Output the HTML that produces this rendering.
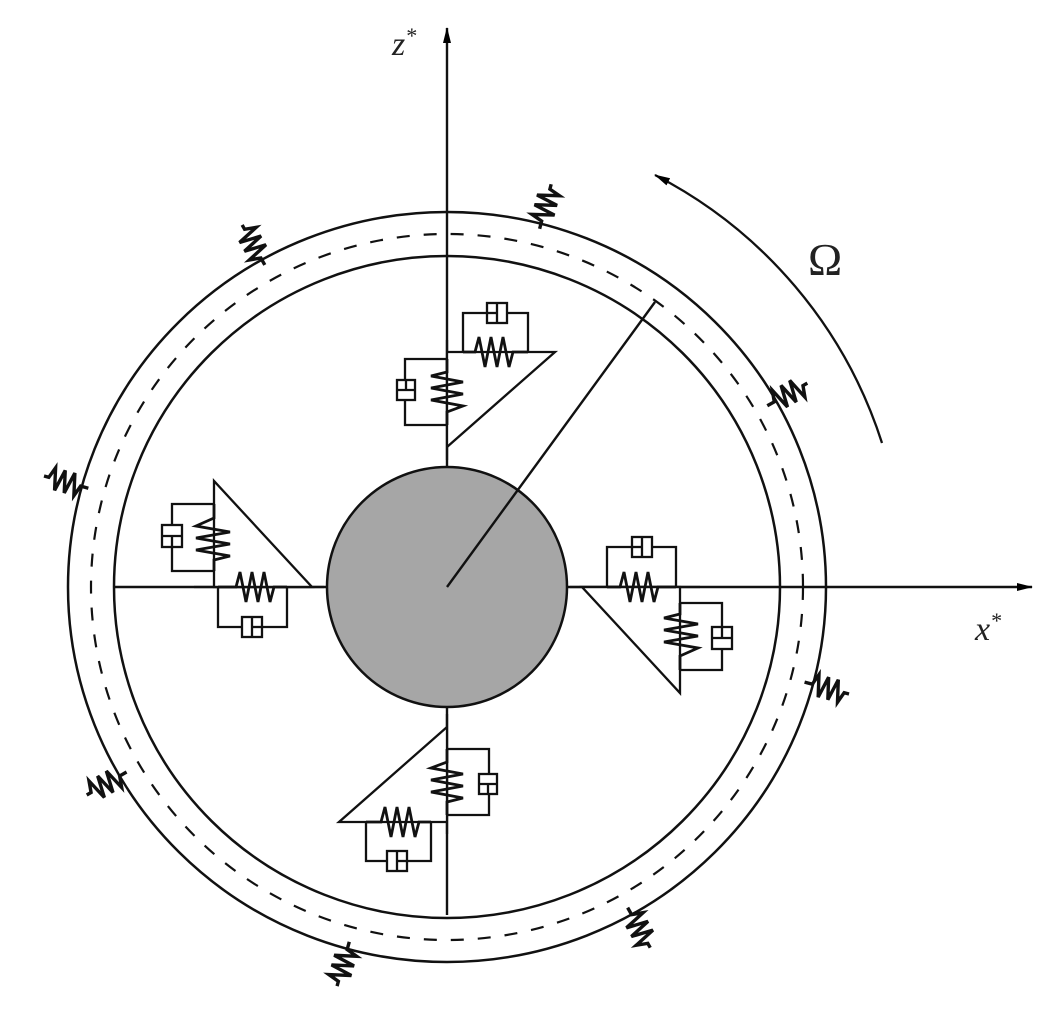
<!DOCTYPE html>
<html><head><meta charset="utf-8"><style>html,body{margin:0;padding:0;background:#fff}svg{display:block}</style></head>
<body>
<svg width="1056" height="1020" viewBox="0 0 1056 1020" xmlns="http://www.w3.org/2000/svg">
<defs>
<marker id="ah" markerWidth="16" markerHeight="10" refX="15" refY="5" orient="auto" markerUnits="userSpaceOnUse">
<path d="M0,1 L16,5 L0,9 Z" fill="#000"/></marker>
<g id="sp" fill="none" stroke="#111" stroke-width="3.4" stroke-linejoin="miter">
<path d="M-2,0 L6,0 L10,-11 L15,11 L20,-11 L25,11 L30,-11 L35,11 L39,0 L44,0"/>
</g>
</defs>
<g fill="none" stroke="#111" stroke-width="2.5">
<ellipse cx="447" cy="587" rx="379" ry="375"/>
<ellipse cx="447" cy="587" rx="333" ry="331"/>
<ellipse cx="447" cy="587" rx="356" ry="353" stroke-dasharray="13,14" stroke-width="2.2"/>
</g>
<!-- axes -->
<line x1="447" y1="915" x2="447" y2="28" stroke="#111" stroke-width="2.4" marker-end="url(#ah)"/>
<line x1="115" y1="587" x2="1032" y2="587" stroke="#111" stroke-width="2.4" marker-end="url(#ah)"/>
<!-- hub -->
<circle cx="447" cy="587" r="120" fill="#a6a6a6" stroke="#111" stroke-width="2.5"/>
<line x1="447" y1="587" x2="655" y2="302" stroke="#111" stroke-width="2.4"/>
<!-- top group -->
<g id="topg" fill="none" stroke="#111" stroke-width="2.3">
<path d="M447,352 H555 L447,447" fill="#fff"/>
<line x1="447" y1="340" x2="447" y2="460"/>
<path d="M463,352 V313 H528 V352"/>
<path d="M463,352 L475,352 L479,337 L485,367 L491,337 L497,367 L503,337 L509,367 L513,352 L528,352" stroke-width="2.8"/>
<rect x="487" y="303" width="20" height="20" fill="#fff"/><line x1="497" y1="303" x2="497" y2="323"/><line x1="487" y1="313" x2="497" y2="313"/>
<path d="M447,359 H405 V425 H447"/>
<path d="M447,359 L447,372 L431,376 L463,382 L431,388 L463,394 L431,400 L463,406 L447,412 L447,425" stroke-width="2.8"/>
<rect x="397" y="380" width="18" height="20" fill="#fff"/><line x1="397" y1="390" x2="415" y2="390"/><line x1="406" y1="380" x2="406" y2="390"/>
</g>
<use href="#topg" transform="rotate(180 447 587)"/>
<!-- right group -->
<g id="rg" fill="none" stroke="#111" stroke-width="2.3">
<path d="M582,587 H680 V693 Z" fill="#fff"/>
<line x1="570" y1="587" x2="700" y2="587"/>
<path d="M607,587 V547 H676 V587"/>
<path d="M607,587 L620,587 L624,572 L630,602 L636,572 L642,602 L648,572 L654,602 L658,587 L676,587" stroke-width="2.8"/>
<rect x="632" y="537" width="20" height="20" fill="#fff"/><line x1="642" y1="537" x2="642" y2="557"/><line x1="632" y1="547" x2="642" y2="547"/>
<path d="M680,603 H722 V670 H680"/>
<path d="M680,603 L680,614 L664,618 L698,624 L664,630 L698,636 L664,642 L698,648 L680,656 L680,670" stroke-width="2.8"/>
<rect x="712" y="627" width="20" height="22" fill="#fff"/><line x1="712" y1="638" x2="732" y2="638"/><line x1="722" y1="627" x2="722" y2="638"/>
</g>
<use href="#rg" transform="rotate(180 447 587)"/>
<!-- outer springs -->
<use href="#sp" transform="translate(447 587) rotate(-75.5) translate(372 0)"/>
<use href="#sp" transform="translate(447 587) rotate(-119.5) translate(372 0)"/>
<use href="#sp" transform="translate(447 587) rotate(-164.6) translate(374 0)"/>
<use href="#sp" transform="translate(447 587) rotate(-29.5) translate(370 0)"/>
<use href="#sp" transform="translate(447 587) rotate(14.9) translate(372 0)"/>
<use href="#sp" transform="translate(447 587) rotate(150) translate(372 0)"/>
<use href="#sp" transform="translate(447 587) rotate(60.6) translate(370 0)"/>
<use href="#sp" transform="translate(447 587) rotate(105.4) translate(370 0)"/>
<!-- omega arc -->
<path d="M882,443 A459,459 0 0 0 655,175" fill="none" stroke="#111" stroke-width="2.3" marker-end="url(#ah)"/>
<text x="808" y="275" font-family="Liberation Serif, serif" font-size="46" fill="#222">Ω</text>
<text x="392" y="55" font-family="Liberation Serif, serif" font-style="italic" font-size="34" fill="#222">z<tspan font-size="22" dy="-12">*</tspan></text>
<text x="975" y="640" font-family="Liberation Serif, serif" font-style="italic" font-size="34" fill="#222">x<tspan font-size="22" dy="-12">*</tspan></text>
</svg>
</body></html>
